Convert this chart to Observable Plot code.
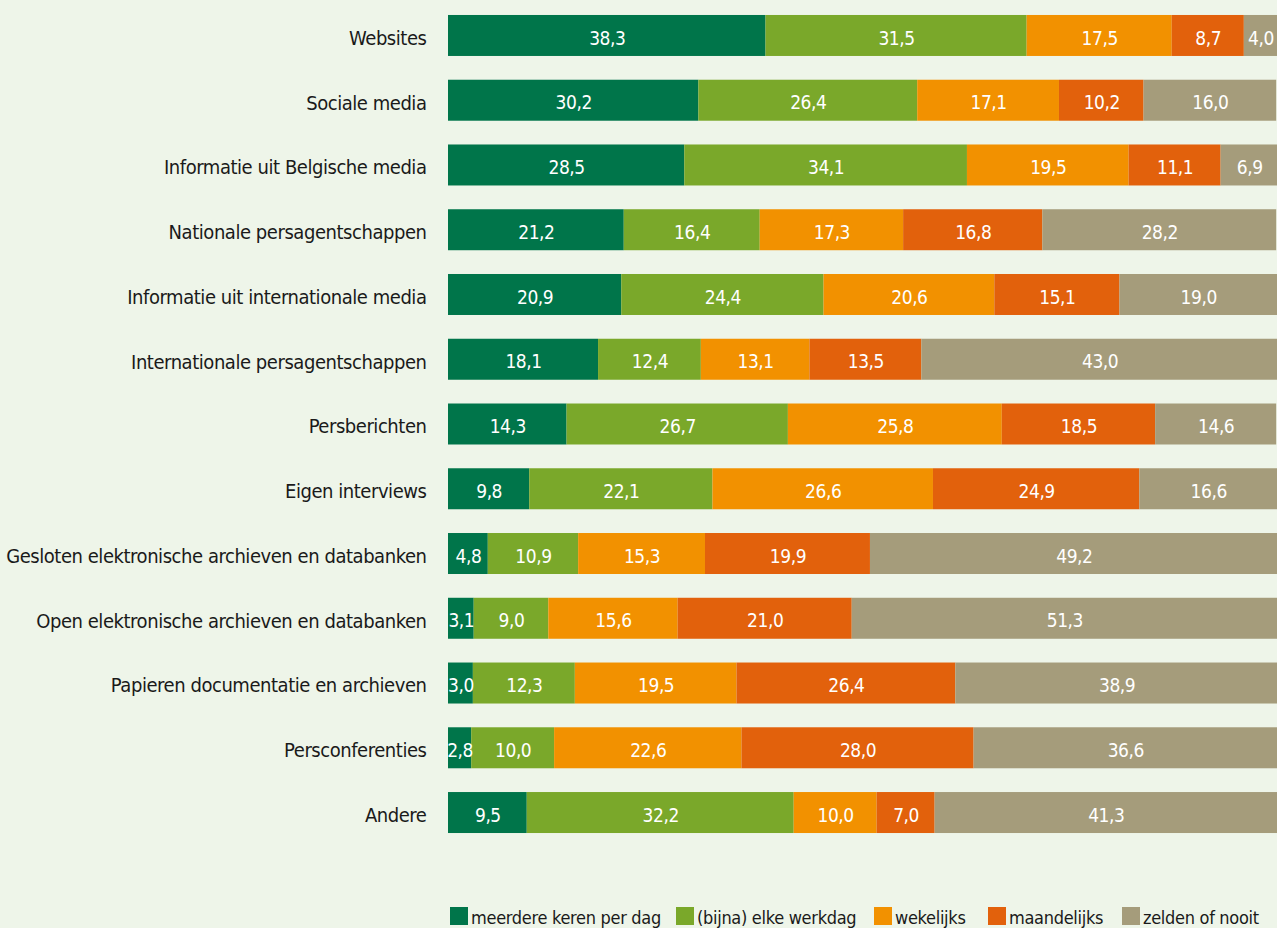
<!DOCTYPE html>
<html><head><meta charset="utf-8">
<script src="https://cdn.jsdelivr.net/npm/d3@7"></script>
<script src="https://cdn.jsdelivr.net/npm/@observablehq/plot@0.6"></script>
<style>
html,body{margin:0;padding:0;background:#eef5e9;overflow:hidden;width:1277px;height:928px;}
#chart{height:900px;}
#legend{position:relative;height:28px;font-family:"DejaVu Sans Condensed","DejaVu Sans",sans-serif;font-stretch:condensed;font-size:18px;letter-spacing:-0.3px;color:#1a1a1a;line-height:18px;}
.item{position:absolute;top:7px;display:flex;align-items:flex-start;white-space:nowrap;}
.sw{width:18px;height:18px;margin-right:3px;flex:none;}
.item span{margin-top:2px;}
</style></head>
<body><div id="chart"></div><div id="legend"></div>
<script>
const categories = ["Websites","Sociale media","Informatie uit Belgische media","Nationale persagentschappen","Informatie uit internationale media","Internationale persagentschappen","Persberichten","Eigen interviews","Gesloten elektronische archieven en databanken","Open elektronische archieven en databanken","Papieren documentatie en archieven","Persconferenties","Andere"];
const seriesNames = ["meerdere keren per dag","(bijna) elke werkdag","wekelijks","maandelijks","zelden of nooit"];
const meerdere = [38.3,30.2,28.5,21.2,20.9,18.1,14.3,9.8,4.8,3.1,3.0,2.8,9.5];
const bijna = [31.5,26.4,34.1,16.4,24.4,12.4,26.7,22.1,10.9,9.0,12.3,10.0,32.2];
const wekelijks = [17.5,17.1,19.5,17.3,20.6,13.1,25.8,26.6,15.3,15.6,19.5,22.6,10.0];
const maandelijks = [8.7,10.2,11.1,16.8,15.1,13.5,18.5,24.9,19.9,21.0,26.4,28.0,7.0];
const zelden = [4.0,16.0,6.9,28.2,19.0,43.0,14.6,16.6,49.2,51.3,38.9,36.6,41.3];
const colors = ["#00754a","#7aa82a","#f29100","#e2610c","#a59c7b"];
const legendLeft = [450,676,874,988,1122];

const seriesValues = [meerdere,bijna,wekelijks,maandelijks,zelden];
const data = [];
categories.forEach((c,i)=>{
  seriesValues.forEach((arr,s)=>{
    data.push({cat:c, series:seriesNames[s], value:arr[i]});
  });
});
const fmt = v => v.toFixed(1).replace(".", ",");
const font = '"DejaVu Sans Condensed","DejaVu Sans",sans-serif';

const chart = Plot.plot({
  width:1277, height:900,
  marginLeft:448, marginRight:0, marginTop:8.5, marginBottom:60.5,
  style:{background:"transparent", fontFamily:font, fontSize:"20px", color:"#1a1a1a", fontStretch:"condensed", letterSpacing:"-0.45px"},
  x:{domain:[0,100], axis:null},
  y:{domain:categories, paddingInner:0.367, paddingOuter:0.1, round:false, label:null, tickSize:0, tickPadding:22},
  color:{domain:seriesNames, range:colors},
  marks:[
    Plot.barX(data, Plot.stackX({x:"value", y:"cat", fill:"series", z:"series"})),
    Plot.text(data, Plot.stackX({x:"value", y:"cat", z:"series", text:d=>fmt(d.value), fill:"white", fontSize:19, dy:2.5})),
    Plot.axisY({tickSize:0, tickPadding:22, fontSize:20, label:null, dy:2.5})
  ]
});
document.getElementById("chart").appendChild(chart);

const lg = document.getElementById("legend");
seriesNames.forEach((n,i)=>{
  const it = document.createElement("div"); it.className="item"; it.style.left = legendLeft[i] + "px";
  const sw = document.createElement("div"); sw.className="sw"; sw.style.background=colors[i];
  const t = document.createElement("span"); t.textContent=n;
  it.appendChild(sw); it.appendChild(t); lg.appendChild(it);
});
</script></body></html>
